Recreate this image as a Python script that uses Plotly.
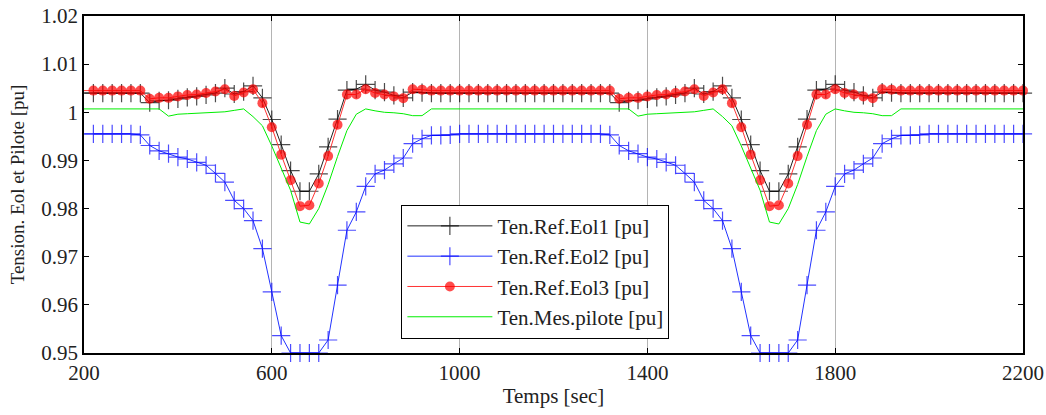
import plotly.graph_objects as go

# time grid (sec), sampled every 20 s
temps = list(range(200, 2201, 20))

eol1 = [
    1.0040, 1.0040, 1.0040, 1.0040, 1.0040, 1.0040, 1.0040, 1.0020, 1.0024, 1.0025,
    1.0028, 1.0031, 1.0033, 1.0036, 1.0040, 1.0050, 1.0038, 1.0043, 1.0055, 1.0030,
    0.9985, 0.9933, 0.9879, 0.9836, 0.9836, 0.9872, 0.9928, 0.9986, 1.0046, 1.0048,
    1.0058, 1.0046, 1.0042, 1.0035, 1.0030, 1.0042, 1.0041, 1.0040, 1.0040, 1.0040,
    1.0040, 1.0040, 1.0040, 1.0040, 1.0040, 1.0040, 1.0040, 1.0040, 1.0040, 1.0040,
    1.0040, 1.0040, 1.0040, 1.0040, 1.0040, 1.0040, 1.0040, 1.0020, 1.0024, 1.0025,
    1.0028, 1.0031, 1.0033, 1.0036, 1.0040, 1.0050, 1.0038, 1.0043, 1.0055, 1.0030,
    0.9985, 0.9933, 0.9879, 0.9836, 0.9836, 0.9872, 0.9928, 0.9986, 1.0046, 1.0048,
    1.0058, 1.0046, 1.0042, 1.0035, 1.0030, 1.0042, 1.0041, 1.0040, 1.0040, 1.0040,
    1.0040, 1.0040, 1.0040, 1.0040, 1.0040, 1.0040, 1.0040, 1.0040, 1.0040, 1.0040,
    1.0040,
]

eol2 = [
    0.9955, 0.9955, 0.9955, 0.9955, 0.9955, 0.9955, 0.9953, 0.9931, 0.9920, 0.9914,
    0.9907, 0.9903, 0.9896, 0.9890, 0.9873, 0.9855, 0.9817, 0.9800, 0.9775, 0.9717,
    0.9627, 0.9536, 0.9500, 0.9500, 0.9500, 0.9500, 0.9527, 0.9641, 0.9755, 0.9793,
    0.9846, 0.9872, 0.9880, 0.9893, 0.9905, 0.9935, 0.9945, 0.9952, 0.9952, 0.9953,
    0.9955, 0.9955, 0.9955, 0.9955, 0.9955, 0.9955, 0.9955, 0.9955, 0.9955, 0.9955,
    0.9955, 0.9955, 0.9955, 0.9955, 0.9955, 0.9955, 0.9953, 0.9931, 0.9920, 0.9914,
    0.9907, 0.9903, 0.9896, 0.9890, 0.9873, 0.9855, 0.9817, 0.9800, 0.9775, 0.9717,
    0.9627, 0.9536, 0.9500, 0.9500, 0.9500, 0.9500, 0.9527, 0.9641, 0.9755, 0.9793,
    0.9846, 0.9872, 0.9880, 0.9893, 0.9905, 0.9935, 0.9945, 0.9952, 0.9952, 0.9953,
    0.9955, 0.9955, 0.9955, 0.9955, 0.9955, 0.9955, 0.9955, 0.9955, 0.9955, 0.9955,
    0.9955,
]

eol3 = [
    1.0045, 1.0045, 1.0045, 1.0045, 1.0045, 1.0045, 1.0045, 1.0028, 1.0030, 1.0030,
    1.0033, 1.0036, 1.0037, 1.0040, 1.0043, 1.0048, 1.0034, 1.0041, 1.0048, 1.0019,
    0.9969, 0.9912, 0.9859, 0.9805, 0.9807, 0.9852, 0.9909, 0.9974, 1.0037, 1.0037,
    1.0048, 1.0040, 1.0037, 1.0033, 1.0029, 1.0048, 1.0047, 1.0045, 1.0045, 1.0045,
    1.0045, 1.0045, 1.0045, 1.0045, 1.0045, 1.0045, 1.0045, 1.0045, 1.0045, 1.0045,
    1.0045, 1.0045, 1.0045, 1.0045, 1.0045, 1.0045, 1.0045, 1.0028, 1.0030, 1.0030,
    1.0033, 1.0036, 1.0037, 1.0040, 1.0043, 1.0048, 1.0034, 1.0041, 1.0048, 1.0019,
    0.9969, 0.9912, 0.9859, 0.9805, 0.9807, 0.9852, 0.9909, 0.9974, 1.0037, 1.0037,
    1.0048, 1.0040, 1.0037, 1.0033, 1.0029, 1.0048, 1.0047, 1.0045, 1.0045, 1.0045,
    1.0045, 1.0045, 1.0045, 1.0045, 1.0045, 1.0045, 1.0045, 1.0045, 1.0045, 1.0045,
    1.0045,
]

pilote = [
    1.0007, 1.0007, 1.0007, 1.0007, 1.0007, 1.0007, 1.0007, 1.0007, 1.0007, 0.9992,
    0.9996, 0.9997, 0.9998, 0.9999, 1.0000, 1.0001, 1.0004, 1.0007, 0.9991, 0.9972,
    0.9930, 0.9885, 0.9838, 0.9772, 0.9768, 0.9800, 0.9850, 0.9908, 0.9962, 0.9996,
    1.0007, 1.0003, 1.0000, 0.9999, 0.9997, 0.9993, 0.9993, 1.0007, 1.0007, 1.0007,
    1.0007, 1.0007, 1.0007, 1.0007, 1.0007, 1.0007, 1.0007, 1.0007, 1.0007, 1.0007,
    1.0007, 1.0007, 1.0007, 1.0007, 1.0007, 1.0007, 1.0007, 1.0007, 1.0007, 0.9992,
    0.9996, 0.9997, 0.9998, 0.9999, 1.0000, 1.0001, 1.0004, 1.0007, 0.9991, 0.9972,
    0.9930, 0.9885, 0.9838, 0.9772, 0.9768, 0.9800, 0.9850, 0.9908, 0.9962, 0.9996,
    1.0007, 1.0003, 1.0000, 0.9999, 0.9997, 0.9993, 0.9993, 1.0007, 1.0007, 1.0007,
    1.0007, 1.0007, 1.0007, 1.0007, 1.0007, 1.0007, 1.0007, 1.0007, 1.0007, 1.0007,
    1.0007,
]

series_names = ["Ten.Ref.Eol1 [pu]", "Ten.Ref.Eol2 [pu]", "Ten.Ref.Eol3 [pu]", "Ten.Mes.pilote [pu]"]
x_ticks = [200, 600, 1000, 1400, 1800, 2200]
y_ticks = [0.95, 0.96, 0.97, 0.98, 0.99, 1.00, 1.01, 1.02]
y_labels = ["0.95", "0.96", "0.97", "0.98", "0.99", "1", "1.01", "1.02"]

FONT = "Liberation Serif"
FS = 21
TXT = "#222222"

def sizes(n, s):
    # no marker drawn at the very first sample (on the left axis)
    return [0] + [s] * (n - 1)

fig = go.Figure()
fig.add_trace(go.Scatter(
    x=temps, y=eol1, name=series_names[0], mode="lines+markers",
    line=dict(color="#222222", width=1),
    marker=dict(symbol="cross-thin", size=sizes(len(temps), 13),
                line=dict(color="#000000", width=1.2)),
    cliponaxis=False,
))
fig.add_trace(go.Scatter(
    x=temps, y=eol2, name=series_names[1], mode="lines+markers",
    line=dict(color="#2233ff", width=1),
    marker=dict(symbol="cross-thin", size=sizes(len(temps), 13),
                line=dict(color="#0000ff", width=1.2)),
    cliponaxis=False,
))
fig.add_trace(go.Scatter(
    x=temps, y=eol3, name=series_names[2], mode="lines+markers",
    line=dict(color="#ff3333", width=1),
    marker=dict(symbol="circle", size=sizes(len(temps), 10), color="#ff0000",
                line=dict(width=0)),
    cliponaxis=False,
))
fig.add_trace(go.Scatter(
    x=temps, y=pilote, name=series_names[3], mode="lines",
    line=dict(color="#00ee00", width=1),
))

axis_common = dict(
    showline=True, linecolor="#000000", linewidth=1.5, mirror="ticks",
    ticks="inside", ticklen=5, tickcolor="#000000", zeroline=False,
    automargin=False,
    tickfont=dict(family=FONT, size=FS, color=TXT),
)

fig.update_xaxes(
    range=[200, 2200], tickvals=x_ticks, ticktext=[str(v) for v in x_ticks],
    showgrid=True, gridcolor="#b4b4b4", gridwidth=1,
    title=dict(text="Temps [sec]", font=dict(family=FONT, size=FS, color=TXT), standoff=4),
    **axis_common,
)
fig.update_yaxes(
    range=[0.95, 1.02], tickvals=y_ticks, ticktext=y_labels, showgrid=False,
    title=dict(text="Tension. Eol et Pilote [pu]", font=dict(family=FONT, size=19, color=TXT), standoff=12),
    **axis_common,
)

fig.update_layout(
    width=1046, height=415,
    margin=dict(l=84, r=23, t=16, b=62),
    paper_bgcolor="white", plot_bgcolor="white",
    showlegend=True,
    legend=dict(
        x=0.338, y=0.44, xanchor="left", yanchor="top",
        bgcolor="white", bordercolor="#000000", borderwidth=1,
        font=dict(family=FONT, size=21, color=TXT),
        itemwidth=85, tracegroupgap=0,
    ),
)

fig.write_html("out.html", config={"displayModeBar": False},
               post_script="document.body.style.margin='0';")
